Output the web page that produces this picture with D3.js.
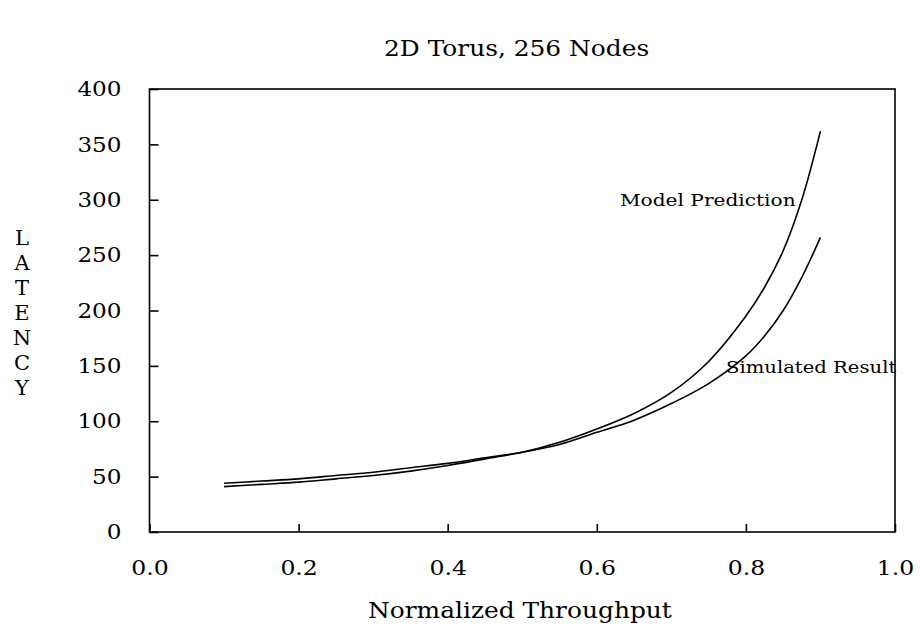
<!DOCTYPE html>
<html>
<head>
<meta charset="utf-8">
<script src="https://cdn.jsdelivr.net/npm/d3@7"></script>
<style>
  html, body { margin: 0; padding: 0; background: #fff; }
  text { font-family: "DejaVu Serif", "Liberation Serif", serif; fill: #000; }
</style>
</head>
<body>
<svg id="chart" width="920" height="637"></svg>
<script>
// Offered load (normalized throughput) at which latency was evaluated
const throughput = [0.1, 0.15, 0.2, 0.25, 0.3, 0.35, 0.4, 0.45, 0.5, 0.55, 0.6, 0.65, 0.7, 0.75, 0.8, 0.825, 0.85, 0.875, 0.9];
// Analytical model latency
const modelLatency = [41, 43, 45, 48, 51, 55, 60, 66, 72, 81, 93, 107, 126, 154, 195, 221, 254, 300, 362];
// Simulated latency
const simLatency = [44, 46, 48, 51, 54, 58, 62, 67, 72, 79, 90, 101, 116, 134, 159, 177, 200, 230, 266];

const xTicks = [0.0, 0.2, 0.4, 0.6, 0.8, 1.0];
const yTicks = [0, 50, 100, 150, 200, 250, 300, 350, 400];

const titleText = "2D Torus, 256 Nodes";
const xLabel = "Normalized Throughput";
const yLabel = "LATENCY";
const modelLabel = "Model Prediction";
const simLabel = "Simulated Result";

const svg = d3.select("#chart");
const plotLeft = 149.5, plotRight = 895, plotTop = 89, plotBottom = 532;

const x = d3.scaleLinear().domain([0, 1]).range([plotLeft, plotRight]);
const y = d3.scaleLinear().domain([0, 400]).range([plotBottom, plotTop]);

// Widen glyph runs a little to get the broad roman look
function widen(sel, k) {
  sel.each(function () {
    const w = this.getComputedTextLength();
    d3.select(this).attr("textLength", w * k).attr("lengthAdjust", "spacingAndGlyphs");
  });
}

// Frame
svg.append("rect")
  .attr("x", plotLeft).attr("y", plotTop)
  .attr("width", plotRight - plotLeft).attr("height", plotBottom - plotTop)
  .attr("fill", "none").attr("stroke", "#000").attr("stroke-width", 1.6);

// Left axis: inward ticks
const yAxis = d3.axisLeft(y).tickValues(yTicks).tickSize(-9).tickPadding(28)
  .tickFormat(d3.format("d"));
const gy = svg.append("g").attr("transform", `translate(${plotLeft},0)`).call(yAxis);
gy.select(".domain").remove();
gy.selectAll(".tick line").attr("stroke", "#000").attr("stroke-width", 1.6);
gy.selectAll(".tick text").attr("font-size", 21).attr("font-family", "DejaVu Serif")
  .call(widen, 1.1);

// Bottom axis: inward ticks
const xAxis = d3.axisBottom(x).tickValues(xTicks).tickSize(-8).tickPadding(28)
  .tickFormat(d3.format(".1f"));
const gx = svg.append("g").attr("transform", `translate(0,${plotBottom})`).call(xAxis);
gx.select(".domain").remove();
gx.selectAll(".tick line").attr("stroke", "#000").attr("stroke-width", 1.6);
gx.selectAll(".tick text").attr("font-size", 21).attr("font-family", "DejaVu Serif")
  .call(widen, 1.12);

// Curves
const line = d3.line()
  .x((d, i) => x(throughput[i]))
  .y(d => y(d))
  .curve(d3.curveCatmullRom.alpha(0.5));

svg.append("path").datum(modelLatency)
  .attr("d", line).attr("fill", "none").attr("stroke", "#000").attr("stroke-width", 1.6);
svg.append("path").datum(simLatency)
  .attr("d", line).attr("fill", "none").attr("stroke", "#000").attr("stroke-width", 1.6);

// Curve labels
svg.append("text").attr("x", 620).attr("y", 206)
  .attr("font-size", 17.5).text(modelLabel).call(widen, 1.15);
svg.append("text").attr("x", 726).attr("y", 373)
  .attr("font-size", 17.5).text(simLabel).call(widen, 1.12);

// Title
svg.append("text").attr("x", 384).attr("y", 56)
  .attr("font-size", 22).text(titleText).call(widen, 1.13);

// X axis title
svg.append("text").attr("x", 368).attr("y", 618)
  .attr("font-size", 22).text(xLabel).call(widen, 1.13);

// Y axis title, stacked letters
svg.append("g").selectAll("text")
  .data(yLabel.split(""))
  .join("text")
  .attr("x", 22)
  .attr("y", (d, i) => 245 + i * 25)
  .attr("text-anchor", "middle")
  .attr("font-size", 21)
  .text(d => d);
</script>
</body>
</html>
